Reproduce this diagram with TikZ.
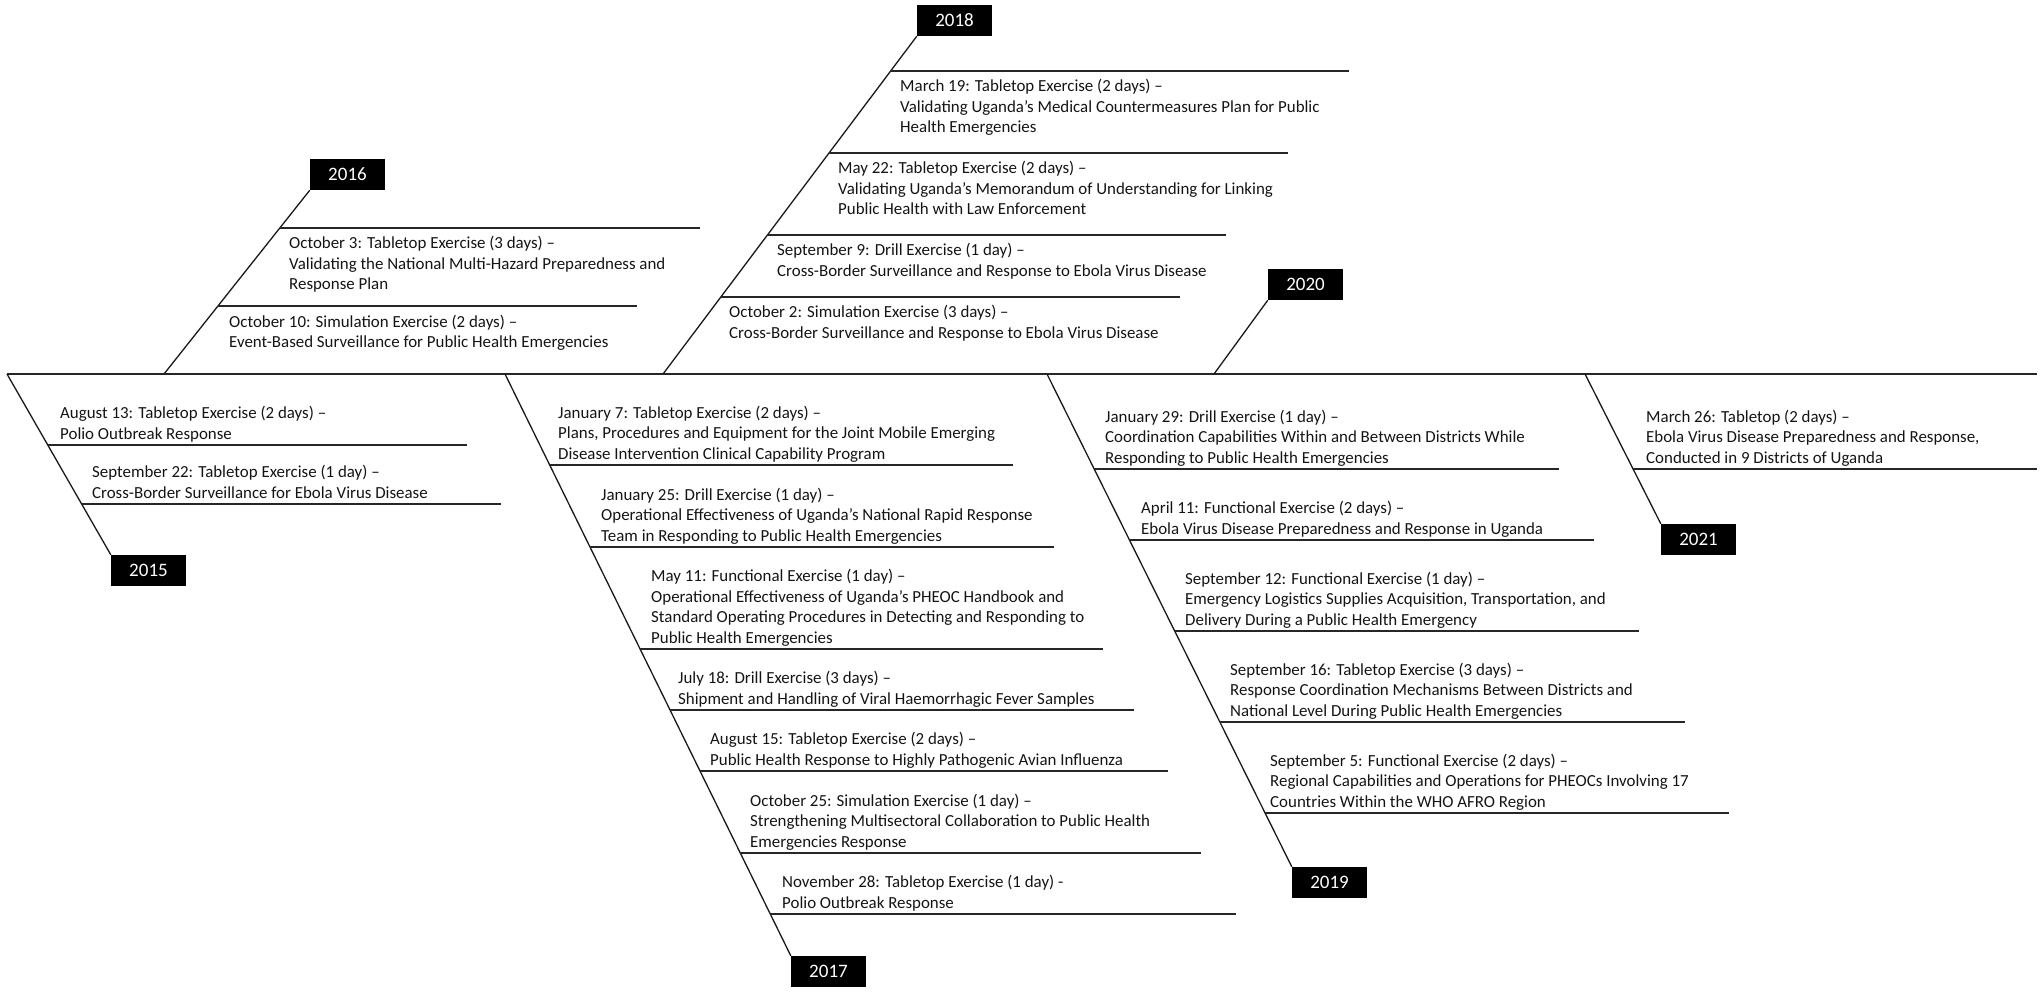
\documentclass[tikz,border=0pt]{standalone}
\usepackage{fontspec}
\setmainfont{Carlito}
\newcommand\evt[1]{\begin{tabular}[t]{@{}l@{}}#1\end{tabular}}
\begin{document}
\begin{tikzpicture}[x=1pt,y=-1pt,
  yearbox/.style={fill=black,text=white,minimum width=75pt,minimum height=31pt,inner sep=0pt,font=\fontsize{19}{22}\selectfont},
  spine/.style={line width=1.3pt,draw=black!90},
  branch/.style={line width=1.8pt,draw=black!85},
  mainline/.style={line width=2.6pt,draw=black!85},
  ev/.style={anchor=base west,inner sep=0pt,text=black!92,font=\fontsize{16.9}{20.5}\selectfont}]
\useasboundingbox (0,0) rectangle (2040,992);

% main line
\coordinate (mL) at (7,374);
\coordinate (mR) at (2037,374);
\draw[mainline] (mL) -- (mR);

% year boxes
\node[yearbox] (y2015) at (148.5,570.5) {2015};
\node[yearbox] (y2016) at (347.5,174.5) {2016};
\node[yearbox] (y2017) at (828.5,971.5) {2017};
\node[yearbox] (y2018) at (954.5,20.5) {2018};
\node[yearbox] (y2019) at (1329.5,882.5) {2019};
\node[yearbox] (y2020) at (1305.5,284.5) {2020};
\node[yearbox] (y2021) at (1698.5,539.5) {2021};

% spine roots on the main line
\coordinate (s2015) at (7,374);
\coordinate (s2016) at (164,374);
\coordinate (s2017) at (505,374);
\coordinate (s2018) at (663,374);
\coordinate (s2019) at (1047,374);
\coordinate (s2020) at (1214,374);
\coordinate (s2021) at (1585,374);

\draw[spine] (s2015) -- (y2015.north west);
\draw[spine] (s2016) -- (y2016.south west);
\draw[spine] (s2017) -- (y2017.north west);
\draw[spine] (s2018) -- (y2018.south west);
\draw[spine] (s2019) -- (y2019.north west);
\draw[spine] (s2020) -- (y2020.south west);
\draw[spine] (s2021) -- (y2021.north west);

% ---------- 2015 ----------
\coordinate (a1s) at (48,445);  \coordinate (a1e) at (467,445);
\coordinate (a2s) at (82,504);  \coordinate (a2e) at (501,504);
\draw[branch] (a1s) -- (a1e);
\draw[branch] (a2s) -- (a2e);
\node[ev] (t15a) at (60,418.5) {\evt{August 13: Tabletop Exercise (2 days) –\\Polio Outbreak Response}};
\node[ev] (t15b) at (92,477.5) {\evt{September 22: Tabletop Exercise (1 day) –\\Cross-Border Surveillance for Ebola Virus Disease}};

% ---------- 2016 ----------
\coordinate (b1s) at (280,228); \coordinate (b1e) at (700,228);
\coordinate (b2s) at (218,306); \coordinate (b2e) at (637,306);
\draw[branch] (b1s) -- (b1e);
\draw[branch] (b2s) -- (b2e);
\node[ev] (t16a) at (289,249) {\evt{October 3: Tabletop Exercise (3 days) –\\Validating the National Multi-Hazard Preparedness and\\Response Plan}};
\node[ev] (t16b) at (229,327) {\evt{October 10: Simulation Exercise (2 days) –\\Event-Based Surveillance for Public Health Emergencies}};

% ---------- 2017 ----------
\coordinate (c1s) at (550,465); \coordinate (c1e) at (1013,465);
\coordinate (c2s) at (590,547); \coordinate (c2e) at (1054,547);
\coordinate (c3s) at (640,649); \coordinate (c3e) at (1103,649);
\coordinate (c4s) at (670,710); \coordinate (c4e) at (1134,710);
\coordinate (c5s) at (700,771); \coordinate (c5e) at (1168,771);
\coordinate (c6s) at (740,853); \coordinate (c6e) at (1201,853);
\coordinate (c7s) at (770,914); \coordinate (c7e) at (1236,914);
\foreach \i in {1,...,7} {\draw[branch] (c\i s) -- (c\i e);}
\node[ev] (t17a) at (558,418) {\evt{January 7: Tabletop Exercise (2 days) –\\Plans, Procedures and Equipment for the Joint Mobile Emerging\\Disease Intervention Clinical Capability Program}};
\node[ev] (t17b) at (601,500) {\evt{January 25: Drill Exercise (1 day) –\\Operational Effectiveness of Uganda’s National Rapid Response\\Team in Responding to Public Health Emergencies}};
\node[ev] (t17c) at (651,581.5) {\evt{May 11: Functional Exercise (1 day) –\\Operational Effectiveness of Uganda's PHEOC Handbook and\\Standard Operating Procedures in Detecting and Responding to\\Public Health Emergencies}};
\node[ev] (t17d) at (678,683.5) {\evt{July 18: Drill Exercise (3 days) –\\Shipment and Handling of Viral Haemorrhagic Fever Samples}};
\node[ev] (t17e) at (710,744.5) {\evt{August 15: Tabletop Exercise (2 days) –\\Public Health Response to Highly Pathogenic Avian Influenza}};
\node[ev] (t17f) at (750,806) {\evt{October 25: Simulation Exercise (1 day) –\\Strengthening Multisectoral Collaboration to Public Health\\Emergencies Response}};
\node[ev] (t17g) at (782,887.5) {\evt{November 28: Tabletop Exercise (1 day) -\\Polio Outbreak Response}};

% ---------- 2018 ----------
\coordinate (d1s) at (891,71);  \coordinate (d1e) at (1349,71);
\coordinate (d2s) at (829,153); \coordinate (d2e) at (1288,153);
\coordinate (d3s) at (767,235); \coordinate (d3e) at (1226,235);
\coordinate (d4s) at (721,297); \coordinate (d4e) at (1180,297);
\foreach \i in {1,...,4} {\draw[branch] (d\i s) -- (d\i e);}
\node[ev] (t18a) at (900,92) {\evt{March 19: Tabletop Exercise (2 days) –\\Validating Uganda's Medical Countermeasures Plan for Public\\Health Emergencies}};
\node[ev] (t18b) at (838,174) {\evt{May 22: Tabletop Exercise (2 days) –\\Validating Uganda's Memorandum of Understanding for Linking\\Public Health with Law Enforcement}};
\node[ev] (t18c) at (777,256) {\evt{September 9: Drill Exercise (1 day) –\\Cross-Border Surveillance and Response to Ebola Virus Disease}};
\node[ev] (t18d) at (729,318) {\evt{October 2: Simulation Exercise (3 days) –\\Cross-Border Surveillance and Response to Ebola Virus Disease}};

% ---------- 2019 ----------
\coordinate (e1s) at (1094,469); \coordinate (e1e) at (1559,469);
\coordinate (e2s) at (1129,540); \coordinate (e2e) at (1594,540);
\coordinate (e3s) at (1175,631); \coordinate (e3e) at (1639,631);
\coordinate (e4s) at (1220,722); \coordinate (e4e) at (1685,722);
\coordinate (e5s) at (1265,813); \coordinate (e5e) at (1729,813);
\foreach \i in {1,...,5} {\draw[branch] (e\i s) -- (e\i e);}
\node[ev] (t19a) at (1105,422) {\evt{January 29: Drill Exercise (1 day) –\\Coordination Capabilities Within and Between Districts While\\Responding to Public Health Emergencies}};
\node[ev] (t19b) at (1141,513.5) {\evt{April 11: Functional Exercise (2 days) –\\Ebola Virus Disease Preparedness and Response in Uganda}};
\node[ev] (t19c) at (1185,584) {\evt{September 12: Functional Exercise (1 day) –\\Emergency Logistics Supplies Acquisition, Transportation, and\\Delivery During a Public Health Emergency}};
\node[ev] (t19d) at (1230,675) {\evt{September 16: Tabletop Exercise (3 days) –\\Response Coordination Mechanisms Between Districts and\\National Level During Public Health Emergencies}};
\node[ev] (t19e) at (1270,766) {\evt{September 5: Functional Exercise (2 days) –\\Regional Capabilities and Operations for PHEOCs Involving 17\\Countries Within the WHO AFRO Region}};

% ---------- 2021 ----------
\coordinate (f1s) at (1633,469); \coordinate (f1e) at (2037,469);
\draw[branch] (f1s) -- (f1e);
\node[ev] (t21a) at (1646,422) {\evt{March 26: Tabletop (2 days) –\\Ebola Virus Disease Preparedness and Response,\\Conducted in 9 Districts of Uganda}};
\end{tikzpicture}
\end{document}
